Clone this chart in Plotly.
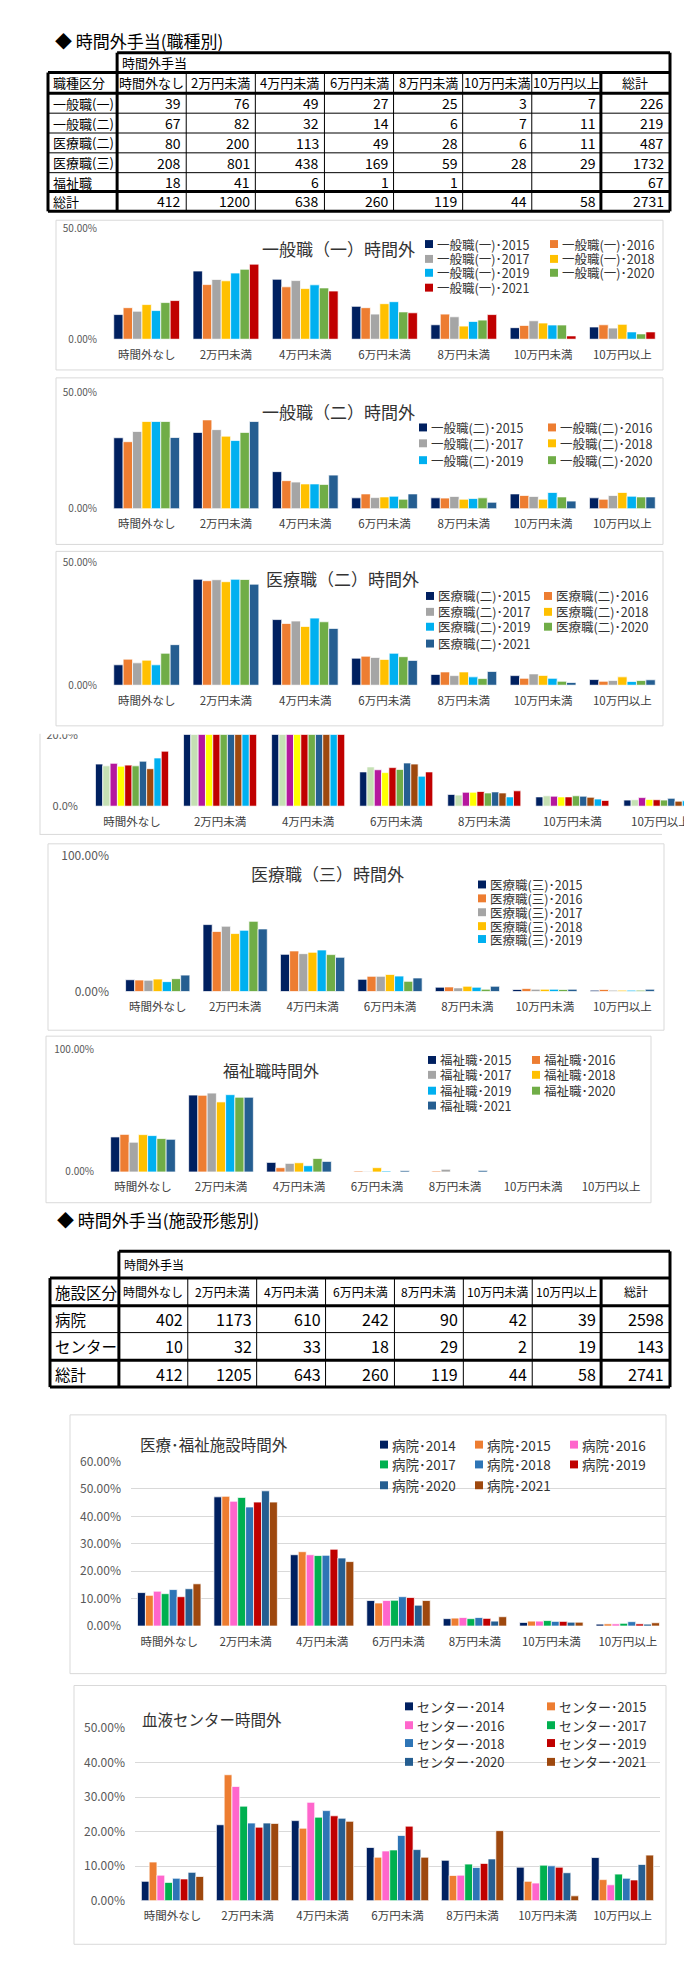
import plotly.graph_objects as go

W, H = 692, 1976
FONT = "Noto Sans CJK JP, Noto Sans, sans-serif"

# ---------------- data ----------------
categories = ["時間外なし", "2万円未満", "4万円未満", "6万円未満", "8万円未満", "10万円未満", "10万円以上"]
total_label = "総計"
table_header = "時間外手当"

# table 1 (職種別)
job_col_title = "職種区分"
job_types = ["一般職(一)", "一般職(二)", "医療職(二)", "医療職(三)", "福祉職"]
job_counts = [
    [39, 76, 49, 27, 25, 3, 7],
    [67, 82, 32, 14, 6, 7, 11],
    [80, 200, 113, 49, 28, 6, 11],
    [208, 801, 438, 169, 59, 28, 29],
    [18, 41, 6, 1, 1, None, None],
]
job_row_totals = [226, 219, 487, 1732, 67]
job_col_totals = [412, 1200, 638, 260, 119, 44, 58]
job_grand_total = 2731

# table 2 (施設形態別)
fac_col_title = "施設区分"
fac_types = ["病院", "センター"]
fac_counts = [
    [402, 1173, 610, 242, 90, 42, 39],
    [10, 32, 33, 18, 29, 2, 19],
]
fac_row_totals = [2598, 143]
fac_col_totals = [412, 1205, 643, 260, 119, 44, 58]
fac_grand_total = 2741

years_job = ["2015", "2016", "2017", "2018", "2019", "2020", "2021"]
years_all = ["2012", "2013", "2014", "2015", "2016", "2017", "2018", "2019", "2020", "2021"]
years_fac = ["2014", "2015", "2016", "2017", "2018", "2019", "2020", "2021"]

# shares in %, one row per year, one column per category
ippan1_shares = [
    [11.1, 30.7, 27.0, 14.8, 6.5, 5.2, 5.5],
    [14.2, 24.6, 23.6, 14.2, 11.3, 6.2, 6.5],
    [12.6, 26.9, 26.4, 11.3, 10.1, 8.3, 5.0],
    [15.6, 26.3, 22.8, 16.0, 5.9, 7.3, 6.7],
    [12.9, 29.8, 24.5, 16.9, 8.0, 6.4, 3.3],
    [16.5, 31.5, 23.1, 12.3, 8.6, 6.4, 2.4],
    [17.4, 33.8, 21.7, 11.9, 11.1, 1.5, 3.3],
]
ippan2_shares = [
    [30.6, 32.9, 16.0, 4.7, 4.7, 6.4, 4.7],
    [28.9, 38.3, 12.1, 6.4, 4.6, 5.7, 4.1],
    [33.3, 34.1, 11.5, 4.8, 5.3, 5.3, 5.7],
    [37.6, 31.3, 10.7, 5.1, 4.1, 4.1, 7.0],
    [37.6, 29.4, 10.7, 5.4, 4.4, 7.0, 5.4],
    [37.6, 32.9, 10.5, 4.1, 4.7, 5.1, 5.1],
    [30.7, 37.6, 14.5, 6.4, 2.8, 3.3, 5.1],
]
iryo2_shares = [
    [8.3, 43.1, 26.7, 11.0, 4.4, 3.9, 2.3],
    [10.6, 42.5, 25.1, 11.8, 5.4, 2.8, 1.6],
    [9.1, 42.9, 26.1, 11.3, 3.9, 4.6, 1.9],
    [10.2, 42.1, 23.9, 10.5, 5.4, 4.0, 3.4],
    [8.3, 43.1, 27.3, 13.0, 3.4, 2.8, 1.5],
    [13.0, 43.0, 25.8, 11.6, 2.7, 1.6, 1.9],
    [16.5, 41.1, 23.1, 10.1, 5.6, 1.1, 2.2],
]
all_shares = [
    [11.8, 45.0, 26.0, 9.6, 3.3, 2.6, 1.7],
    [11.3, 44.5, 25.4, 11.0, 3.1, 2.9, 1.8],
    [12.0, 43.5, 25.2, 10.2, 3.9, 2.8, 2.4],
    [11.2, 45.0, 26.0, 9.4, 3.9, 2.6, 1.9],
    [11.5, 44.0, 25.2, 10.8, 4.1, 2.6, 1.8],
    [11.3, 44.5, 25.6, 10.3, 3.7, 2.9, 1.7],
    [12.6, 42.0, 24.3, 12.1, 4.0, 2.8, 2.2],
    [10.5, 44.0, 26.1, 11.8, 3.7, 2.5, 1.4],
    [13.5, 46.0, 26.0, 8.4, 2.6, 2.0, 1.5],
    [15.4, 43.9, 23.4, 9.6, 4.3, 1.6, 2.0],
]
iryo3_shares = [
    [8.7, 49.3, 27.4, 9.0, 3.2, 1.5, 1.0],
    [8.5, 44.2, 29.9, 11.2, 3.4, 2.2, 1.5],
    [8.3, 48.1, 27.9, 11.2, 2.7, 1.7, 1.0],
    [9.2, 42.7, 28.9, 12.6, 3.9, 1.7, 1.0],
    [7.3, 45.1, 30.6, 11.4, 3.2, 1.7, 1.0],
    [9.5, 51.7, 27.2, 7.5, 1.7, 1.5, 1.0],
    [12.1, 46.1, 25.2, 10.0, 3.9, 1.7, 1.7],
]
fukushi_shares = [
    [28.5, 62.6, 7.8, None, None, None, None],
    [30.6, 62.4, 3.5, 0.8, 0.8, None, None],
    [24.2, 64.2, 7.0, 0.5, 2.2, None, None],
    [30.4, 57.0, 7.5, 3.5, None, None, None],
    [29.6, 62.9, 5.1, 0.8, None, None, None],
    [27.2, 60.8, 11.0, None, None, None, None],
    [26.6, 60.8, 8.6, 1.1, 1.3, None, None],
]
byoin_shares = [
    [12.2, 47.1, 26.0, 9.3, 2.7, 1.3, 0.7],
    [11.2, 47.3, 27.1, 8.4, 2.9, 1.8, 0.8],
    [12.7, 45.5, 26.0, 9.3, 3.1, 1.8, 0.8],
    [11.8, 46.9, 25.7, 9.4, 2.7, 2.0, 1.0],
    [13.3, 43.4, 25.8, 10.7, 3.1, 1.7, 1.6],
    [10.7, 45.2, 28.0, 10.4, 2.8, 1.7, 0.8],
    [13.6, 49.3, 24.8, 7.6, 1.8, 1.4, 0.7],
    [15.4, 45.2, 23.5, 9.3, 3.4, 1.4, 1.2],
]
center_shares = [
    [5.6, 22.0, 23.2, 15.4, 11.7, 9.7, 12.5],
    [11.2, 36.5, 21.0, 12.6, 7.3, 5.6, 6.1],
    [7.4, 33.1, 28.5, 14.4, 7.4, 5.1, 4.6],
    [5.3, 27.4, 24.2, 14.7, 10.6, 10.3, 7.7],
    [6.5, 22.5, 26.1, 18.9, 9.6, 10.1, 6.5],
    [6.3, 21.3, 24.6, 21.6, 10.8, 9.7, 6.0],
    [8.2, 22.5, 23.9, 14.8, 12.1, 8.1, 10.5],
    [7.0, 22.4, 23.0, 12.6, 20.3, 1.4, 13.2],
]

# ---------------- styles ----------------
colors_job_a = ["#002060", "#ED7D31", "#A5A5A5", "#FFC000", "#00B0F0", "#70AD47", "#C00000"]
colors_job_b = ["#002060", "#ED7D31", "#A5A5A5", "#FFC000", "#00B0F0", "#70AD47", "#255E91"]
colors_all = ["#002060", "#C5E0B4", "#B5179E", "#FFFF00", "#C00000", "#70AD47", "#255E91", "#9E480E", "#00B0F0", "#C00000"]
colors_fac = ["#002060", "#ED7D31", "#FF66CC", "#00B050", "#2E75B6", "#C00000", "#255E91", "#9E480E"]

GRID = "#D9D9D9"
BOX = "#D9D9D9"
TXT = "#333333"
DOT = "･"


def PX(x):
    return x / W


def PY(y):
    return 1 - y / H


fig = go.Figure()
shapes = []
annotations = []
layout_axes = {}


def line(x0, y0, x1, y1, color="black", width=1, layer="above"):
    shapes.append(dict(type="line", xref="paper", yref="paper", x0=PX(x0), y0=PY(y0), x1=PX(x1), y1=PY(y1),
                       line=dict(color=color, width=width), layer=layer))


def rect(x0, y0, x1, y1, color=BOX, fill="white", width=1, layer="below"):
    shapes.append(dict(type="rect", xref="paper", yref="paper", x0=PX(x0), y0=PY(y0), x1=PX(x1), y1=PY(y1),
                       line=dict(color=color, width=width), fillcolor=fill, layer=layer))


def text(x, y, s, size=12, anchor="left", color=TXT):
    annotations.append(dict(x=PX(x), y=PY(y), xref="paper", yref="paper", text=s, showarrow=False,
                            xanchor=anchor, yanchor="middle", font=dict(size=size, color=color, family=FONT)))


def fmt(v):
    return "" if v is None else str(v)


def draw_table(x0, x1, rows, col_title, labels, counts, row_totals, col_totals, grand,
               head_size, label_size, num_size):
    ncol = 9
    cw = (x1 - x0) / ncol
    cx = [x0 + cw * i for i in range(ncol + 1)]
    top, r1 = rows[0], rows[1]
    bottom = rows[-1]
    for ry in rows[3:-2]:
        line(x0, ry, x1, ry, width=1)
    for c in cx[2:8]:
        line(c, r1, c, bottom, width=1)
    T = 3
    line(cx[1], top, x1, top, width=T)
    line(cx[1], top, cx[1], bottom, width=T)
    line(x1, top, x1, bottom, width=T)
    line(x0, r1, x1, r1, width=T)
    line(x0, r1, x0, bottom, width=T)
    line(x0, bottom, x1, bottom, width=T)
    line(x0, rows[2], x1, rows[2], width=T)
    line(x0, rows[-2], x1, rows[-2], width=T)
    line(cx[8], r1, cx[8], bottom, width=T)
    mid = lambda i: (rows[i] + rows[i + 1]) / 2
    text(cx[1] + 3, mid(0), table_header, head_size, "left", "black")
    text(x0 + 3, mid(1), col_title, label_size, "left", "black")
    for j, c in enumerate(categories):
        text((cx[j + 1] + cx[j + 2]) / 2, mid(1), c, head_size, "center", "black")
    text((cx[8] + cx[9]) / 2, mid(1), total_label, head_size, "center", "black")
    for i, lab in enumerate(labels):
        text(x0 + 3, mid(2 + i), lab, label_size, "left", "black")
        for j, v in enumerate(counts[i]):
            text(cx[j + 2] - 3, mid(2 + i), fmt(v), num_size, "right", "black")
        text(cx[9] - 4, mid(2 + i), fmt(row_totals[i]), num_size, "right", "black")
    k = 2 + len(labels)
    text(x0 + 3, mid(k), total_label, label_size, "left", "black")
    for j, v in enumerate(col_totals):
        text(cx[j + 2] - 3, mid(k), fmt(v), num_size, "right", "black")
    text(cx[9] - 4, mid(k), fmt(grand), num_size, "right", "black")


def add_chart(idx, names, values, colors, xdom, ydom, yrange, ytickvals, ydec, ysize, xrange=(-0.5, 6.5)):
    xa = "x" if idx == 1 else f"x{idx}"
    ya = "y" if idx == 1 else f"y{idx}"
    for name, vals, col in zip(names, values, colors):
        fig.add_trace(go.Bar(x=categories, y=vals, name=name, xaxis=xa, yaxis=ya, showlegend=False,
                             marker=dict(color=col, line=dict(color="rgba(255,255,255,0.9)", width=0.8)),
                             hovertemplate="%{x}: %{y:.1f}%<extra>" + name + "</extra>"))
    key = "" if idx == 1 else str(idx)
    layout_axes["xaxis" + key] = dict(domain=[PX(xdom[0]), min(1, PX(xdom[1]))], anchor=ya, type="category",
                                      range=list(xrange), showgrid=False, showline=False, zeroline=False,
                                      ticks="", ticklabelstandoff=7, fixedrange=True,
                                      tickfont=dict(size=11.5, color="#404040", family=FONT))
    layout_axes["yaxis" + key] = dict(domain=[PY(ydom[1]), PY(ydom[0])], anchor=xa, range=list(yrange),
                                      tickmode="array", tickvals=ytickvals,
                                      ticktext=[f"{v:.{ydec}f}%" for v in ytickvals],
                                      showgrid=True, gridcolor=GRID, gridwidth=1, zeroline=False,
                                      showline=False, ticks="", ticklabelstandoff=9, fixedrange=True,
                                      tickfont=dict(size=ysize, color="#595959", family=FONT))


def add_legend(names, colors, cols_x, rows_y, size=12, sq=8):
    n = len(cols_x)
    for k, (name, col) in enumerate(zip(names, colors)):
        r, c = divmod(k, n)
        x, y = cols_x[c], rows_y[r]
        shapes.append(dict(type="rect", xref="paper", yref="paper", x0=PX(x), x1=PX(x + sq),
                           y0=PY(y + sq / 2), y1=PY(y - sq / 2), fillcolor=col, line=dict(width=0),
                           layer="above"))
        text(x + sq + 2, y, name, size, "left", TXT)


# ---------------- titles & tables ----------------
text(45, 23, "◆ 時間外手当(職種別)", 17, "left", "black")
draw_table(40, 662, [35, 55, 76, 96, 116, 136, 156, 175, 195], job_col_title, job_types, job_counts,
           job_row_totals, job_col_totals, job_grand_total, 13, 13, 14)

text(47, 1212, "◆ 時間外手当(施設形態別)", 17, "left", "black")
draw_table(42, 662, [1244, 1271, 1299, 1326, 1354, 1381], fac_col_title, fac_types, fac_counts,
           fac_row_totals, fac_col_totals, fac_grand_total, 12, 15.5, 16)

# ---------------- chart 1: 一般職(一) ----------------
rect(48, 204, 655, 355)
n1 = [f"一般職(一){DOT}{y}" for y in years_job]
add_chart(1, n1, ippan1_shares, colors_job_a, (99, 654), (212, 324), (0, 50), [0, 50], 2, 10)
text(330, 233, "一般職（一）時間外", 17, "center")
add_legend(n1, colors_job_a, [417, 542], [228, 243, 257, 272], size=12.5)

# ---------------- chart 2: 一般職(二) ----------------
rect(48, 363, 655, 531)
n2 = [f"一般職(二){DOT}{y}" for y in years_job]
add_chart(2, n2, ippan2_shares, colors_job_b, (99, 654), (378, 495), (0, 50), [0, 50], 2, 10)
text(330, 397, "一般職（二）時間外", 17, "center")
add_legend(n2[:6], colors_job_b[:6], [411, 540], [413, 429, 446], size=12.5)

# ---------------- chart 3: 医療職(二) ----------------
rect(48, 538, 655, 714)
n3 = [f"医療職(二){DOT}{y}" for y in years_job]
add_chart(3, n3, iryo2_shares, colors_job_b, (99, 654), (549, 673), (0, 50), [0, 50], 2, 10)
text(334, 565, "医療職（二）時間外", 17, "center")
add_legend(n3, colors_job_b, [418, 536], [583, 599, 614, 631], size=12.5)

# ---------------- chart 4: cropped overall chart ----------------
n4 = [f"全体{DOT}{y}" for y in years_all]
add_chart(4, n4, all_shares, colors_all, (80, 692), (723, 795), (0, 20), [0, 20], 1, 11,
          xrange=(-0.5, 6.45))
shapes.append(dict(type="rect", xref="paper", yref="paper", x0=0, x1=1, y0=PY(722.5), y1=PY(715.5),
                   fillcolor="white", line=dict(width=0), layer="above"))
line(32, 722, 32, 824, BOX, 1)
line(32, 823.5, 654, 823.5, BOX, 1)
line(680, 831, 692, 831, BOX, 1)

# ---------------- chart 5: 医療職(三) ----------------
rect(40, 833, 656, 1021)
n5 = [f"医療職(三){DOT}{y}" for y in years_job]
add_chart(5, n5, iryo3_shares, colors_job_b, (111, 653), (845, 982), (0, 100), [0, 100], 2, 12)
text(319, 863, "医療職（三）時間外", 17, "center")
add_legend(n5[:5], colors_job_b[:5], [470], [874, 888, 902, 916, 929], size=12.5)

# ---------------- chart 6: 福祉職 ----------------
rect(38, 1027, 643, 1195)
n6 = [f"福祉職{DOT}{y}" for y in years_job]
add_chart(6, n6, fukushi_shares, colors_job_b, (96, 642), (1040, 1164), (0, 100), [0, 100], 2, 10)
text(263, 1061, "福祉職時間外", 16, "center")
add_legend(n6, colors_job_b, [420, 524], [1051, 1066, 1082, 1097], size=12.5)

# ---------------- chart 7: 医療・福祉施設 ----------------
rect(62, 1409, 658, 1670)
n7 = [f"病院{DOT}{y}" for y in years_fac]
add_chart(7, n7, byoin_shares, colors_fac, (123, 658), (1456, 1622), (0, 60), [0, 10, 20, 30, 40, 50, 60], 2, 12)
text(130, 1438, "医療･福祉施設時間外", 15.5, "left")
add_legend(n7, colors_fac, [372, 467, 562], [1439, 1459, 1480], size=13.5)

# ---------------- chart 8: 血液センター ----------------
rect(66, 1682, 658, 1943)
n8 = [f"センター{DOT}{y}" for y in years_fac]
add_chart(8, n8, center_shares, colors_fac, (127, 652), (1725, 1899), (0, 50), [0, 10, 20, 30, 40, 50], 2, 12)
text(132, 1716, "血液センター時間外", 15.5, "left")
add_legend(n8, colors_fac, [397, 539], [1703, 1722, 1740, 1759], size=13)

fig.update_layout(
    width=W, height=H, margin=dict(l=0, r=0, t=0, b=0), autosize=False,
    paper_bgcolor="white", plot_bgcolor="rgba(0,0,0,0)",
    font=dict(family=FONT, color=TXT),
    barmode="group", bargap=0.17, bargroupgap=0.0,
    showlegend=False, shapes=shapes, annotations=annotations,
    **layout_axes,
)

fig.write_html("out.html", config={"displayModeBar": False})
